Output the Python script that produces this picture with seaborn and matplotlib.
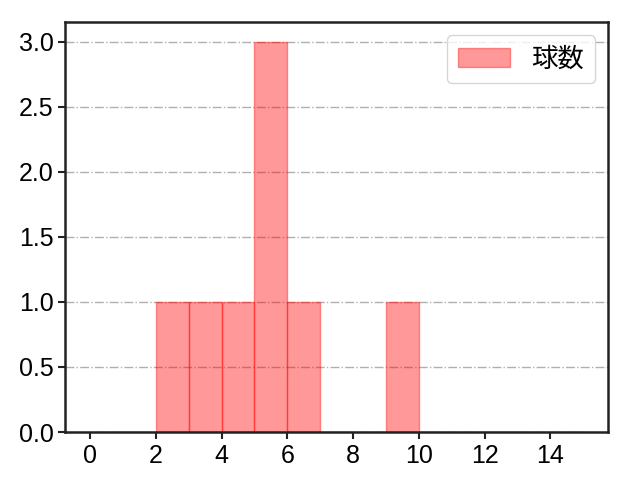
import matplotlib
matplotlib.use("Agg")
import matplotlib.pyplot as plt
import seaborn as sns

# ==========================================
# DATOS
# ==========================================

# pitch counts per appearance
kyusu = [2, 3, 4, 5, 5, 5, 6, 9]
bins = list(range(0, 16))
etiqueta = "球数"
yticks = [0.0, 0.5, 1.0, 1.5, 2.0, 2.5, 3.0]

# ==========================================
# GRAFICO
# ==========================================

sns.set_style("ticks")
plt.rcParams["font.family"] = ["Liberation Sans", "Noto Sans CJK JP"]
plt.rcParams["text.color"] = "black"

fig, ax = plt.subplots(figsize=(6.4, 4.8), dpi=100)

sns.histplot(
    x=kyusu,
    bins=bins,
    color=(1, 0, 0, 0.4),
    edgecolor=(1, 0, 0, 0.4),
    alpha=None,
    linewidth=1,
    label=etiqueta,
    ax=ax
)

ax.set_xlim(-0.75, 15.75)
ax.set_ylim(0, 3.15)
ax.set_xticks(range(0, 16, 2))
ax.set_yticks(yticks)
ax.set_yticklabels([f"{v:.1f}" for v in yticks])
ax.set_xlabel("")
ax.set_ylabel("")
ax.tick_params(labelsize=18, width=1.5, length=5, color="#222222", labelcolor="black")

for s in ax.spines.values():
    s.set_linewidth(1.8)
    s.set_color("#222222")

ax.grid(True, axis="y", linestyle="-.", color="#b0b0b0", linewidth=1)
ax.set_axisbelow(True)

ax.legend(
    loc="upper right",
    prop={"family": ["Noto Sans CJK JP"], "size": 19}
)

fig.subplots_adjust(left=0.102, right=0.95, top=0.954, bottom=0.1)
plt.savefig("out.png")
plt.close()
